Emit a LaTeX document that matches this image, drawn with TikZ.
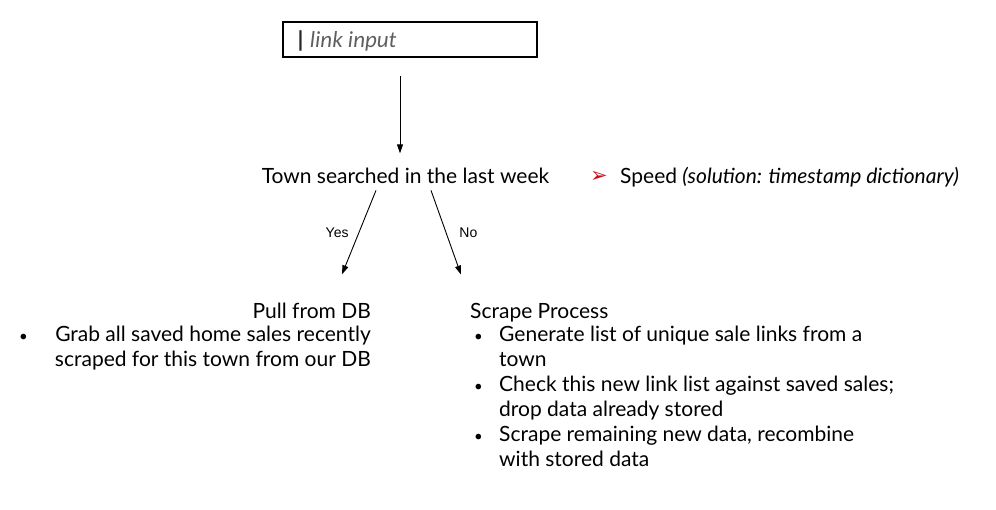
\documentclass[tikz,border=0pt]{standalone}
\usepackage{fontspec}
\setmainfont{Lato}
\newfontfamily\calibri{Carlito}
\newfontfamily\arial{Liberation Sans}
\newfontfamily\dingfont{DejaVu Sans}
\usetikzlibrary{arrows.meta}
\definecolor{inputgray}{RGB}{95,95,95}
\definecolor{bulletred}{RGB}{200,16,30}

\begin{document}
\begin{tikzpicture}[x=1pt,y=-1pt,
  txt/.style={inner sep=0pt, font=\fontsize{21}{24.5}\selectfont},
  lbl/.style={inner sep=0pt, font=\arial\fontsize{14}{16}\selectfont},
  dot/.style={inner sep=0pt, font=\fontsize{15}{24.5}\selectfont},
  flow/.style={-{Triangle[length=9pt,width=6pt]}, line width=0.9pt}]
\useasboundingbox (0,0) rectangle (996,509);
% input field
\node[draw, line width=1.2pt, minimum width=254pt, minimum height=35pt, inner sep=0pt] (input) at (410,39.5) {};
\node[anchor=base west, inner sep=0pt, text=inputgray, font=\calibri\fontsize{23}{24}\selectfont] (cursor) at (295,47.5) {\textcolor{black!85}{\textbf{|}}\,\textit{link input}};
% decision
\node[txt, anchor=base] (town) at (405.5,183) {Town searched in the last week};
\node[anchor=base west, inner sep=0pt, text=bulletred, font=\dingfont\fontsize{21}{24}\selectfont] (mark) at (590,182) {➢};
\node[txt, anchor=base west] (speed) at (620,183) {Speed \textit{(solution: timestamp dictionary)}};
\draw[flow] ([xshift=-10pt,yshift=-18pt]input.south) -- ([xshift=-5.5pt,yshift=14pt]town.north);
% branches
\node[txt, anchor=base east] (pull) at (371,318) {Pull from DB};
\node[txt, anchor=base west] (scrape) at (470,318) {Scrape Process};
\draw[flow] ([xshift=-29.5pt,yshift=-7pt]town.south) -- node[lbl, pos=0.5, left=10pt] (yes) {Yes} ([xshift=-29pt,yshift=28pt]pull.north east);
\draw[flow] ([xshift=25.5pt,yshift=-7pt]town.south) -- node[lbl, pos=0.5, right=13pt] (no) {No} ([xshift=-9pt,yshift=28pt]scrape.north west);
% pull from DB
\node[dot, anchor=base west] (b1) at (19,341) {•};
\node[txt, anchor=base east, align=right] (grab) at (371,366) {Grab all saved home sales recently\\scraped for this town from our DB};
% scrape process
\node[dot, anchor=base west] (s1) at (474,341) {•};
\node[dot, anchor=base west] (s2) at (474,391) {•};
\node[dot, anchor=base west] (s3) at (474,441) {•};
\node[txt, anchor=base west, align=left] (gen) at (499,366) {Generate list of unique sale links from a\\town};
\node[txt, anchor=base west, align=left] (check) at (499,416) {Check this new link list against saved sales;\\drop data already stored};
\node[txt, anchor=base west, align=left] (rest) at (499,466) {Scrape remaining new data, recombine\\with stored data};
\end{tikzpicture}
\end{document}
